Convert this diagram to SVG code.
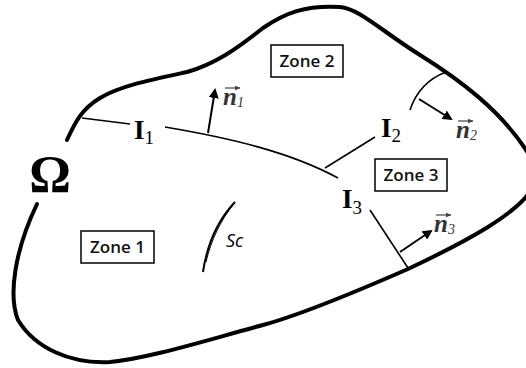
<svg xmlns="http://www.w3.org/2000/svg" width="526" height="368" viewBox="0 0 526 368">
<defs>
<marker id="ah" viewBox="0 0 10 10" refX="8" refY="5" markerWidth="5" markerHeight="5" orient="auto" markerUnits="strokeWidth">
<path d="M0,0 L10,5 L0,10 z" fill="#000"/>
</marker>
<marker id="sa" viewBox="0 0 10 10" refX="9" refY="5" markerWidth="5" markerHeight="5" orient="auto" markerUnits="strokeWidth">
<path d="M0,1 L10,5 L0,9 z" fill="#444"/>
</marker>
</defs>
<style>
.outline{fill:none;stroke:#000;stroke-width:4;stroke-linecap:round}
.iface{fill:none;stroke:#000;stroke-width:1.6}
.nrm{fill:none;stroke:#000;stroke-width:2;marker-end:url(#ah)}
.box{fill:#fff;stroke:#000;stroke-width:1.5}
.zt{font-family:"Open Sans","Liberation Sans",sans-serif;font-size:17px;font-weight:600;fill:#111}
.il{font-family:"Liberation Serif",serif;font-weight:bold;font-size:27px;fill:#000}
.sub{font-family:"Liberation Serif",serif;font-weight:normal;font-size:19px}
.nl{font-family:"Liberation Serif",serif;font-style:italic;font-weight:bold;font-size:25px;fill:#333}
.nsub{font-size:14px;font-weight:normal}
.ov{fill:none;stroke:#444;stroke-width:1.2;marker-end:url(#sa)}
</style>
<rect width="526" height="368" fill="#fff"/>
<g id="domain">
<path class="outline" d="M67,140 C74,125 80,110 100,98 C120,86 150,80 187,72 C215,64 235,50 263,28 C285,13 305,5 340,7 C360,9 380,30 420,55 C460,80 500,110 526,150 C540,170 535,185 526,197 C510,215 480,235 408,269 C360,290 300,315 263,325 C200,342 150,358 110,362 C70,364 35,348 18,320 C8,295 15,250 37,204"/>
</g>
<g id="omega"><text x="50" y="192" text-anchor="middle" font-family="Liberation Serif,serif" font-weight="bold" font-size="52">Ω</text></g>
<g id="connectors">
<path class="iface" d="M82,118 L130,124"/>
<path class="iface" d="M165,127 C230,138 290,152 338,178"/>
<path class="iface" d="M325,168 L375,137"/>
<path class="iface" d="M410,110 C415,95 425,80 446,72"/>
<path class="iface" d="M370,210 L408,268"/>
<path class="nrm" d="M208,133 L215,90"/>
<path class="nrm" d="M419,99 L451,119"/>
<path class="nrm" d="M400,252 L431,231"/>
<path fill="none" stroke="#000" stroke-width="2" d="M203,272 C207,245 218,220 235,202"/>
<path fill="none" stroke="#000" stroke-width="1" d="M206,262 C211,240 221,220 233,205"/>
</g>
<g id="zone1"><rect class="box" x="81" y="231" width="73" height="32"/><text class="zt" x="117.5" y="253" text-anchor="middle">Zone 1</text></g>
<g id="zone2"><rect class="box" x="271" y="45" width="72" height="32"/><text class="zt" x="307" y="67" text-anchor="middle">Zone 2</text></g>
<g id="zone3"><rect class="box" x="375" y="159" width="72" height="32"/><text class="zt" x="411" y="181" text-anchor="middle">Zone 3</text></g>
<g id="I1"><text class="il" x="134" y="139">I<tspan class="sub" dy="5">1</tspan></text></g>
<g id="I2"><text class="il" x="381" y="137">I<tspan class="sub" dy="5">2</tspan></text></g>
<g id="I3"><text class="il" x="342" y="208">I<tspan class="sub" dy="6">3</tspan></text></g>
<g id="n1"><text class="nl" x="223" y="105">n<tspan class="nsub" dy="2">1</tspan></text><path class="ov" d="M225,88 L240,88"/></g>
<g id="n2"><text class="nl" x="456" y="138">n<tspan class="nsub" dy="2">2</tspan></text><path class="ov" d="M458,121 L473,121"/></g>
<g id="n3"><text class="nl" x="434" y="232">n<tspan class="nsub" dy="2">3</tspan></text><path class="ov" d="M436,215 L451,215"/></g>
<g id="sc"><text x="226" y="247" font-family="Open Sans,Liberation Sans,sans-serif" font-style="italic" font-size="18">Sc</text></g>
</svg>
